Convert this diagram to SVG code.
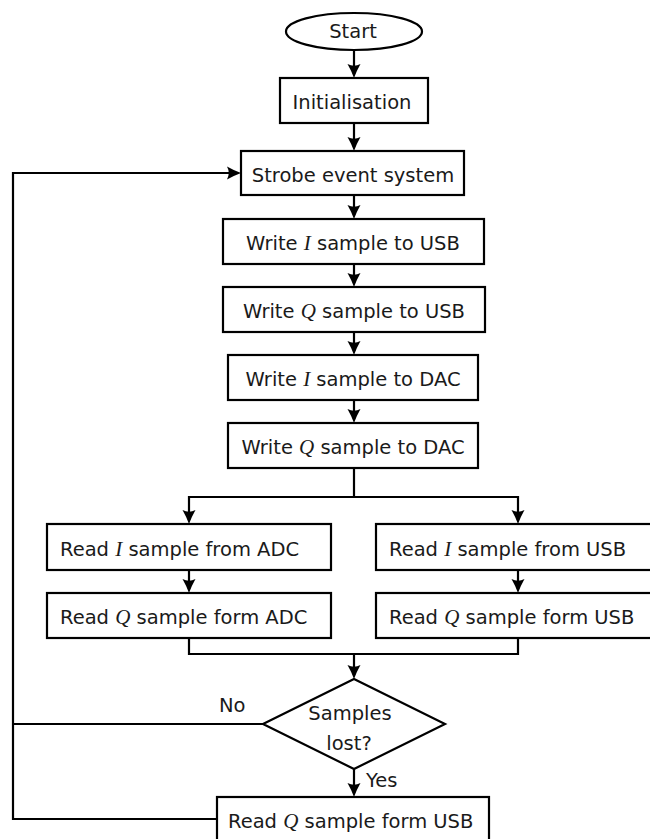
<svg xmlns="http://www.w3.org/2000/svg" width="650" height="839" viewBox="0 0 650 839">
  <defs>
    <marker id="arrow" markerUnits="userSpaceOnUse" viewBox="0 0 14 14" refX="10" refY="7" markerWidth="14" markerHeight="14" orient="auto">
      <path d="M0,0.5 Q6,4 14,7 Q6,10 0,13.5 Q3.5,7 0,0.5 Z" fill="#000"/>
    </marker>
    <style>
      .box { fill: #fff; stroke: #000; stroke-width: 2.2; }
      .wire { fill: none; stroke: #000; stroke-width: 2.2; }
      .lbl { font-family: "DejaVu Sans", "Liberation Sans", sans-serif; font-size: 19.5px; fill: #1a1a1a; }
      .mid { text-anchor: middle; }
      .m { font-family: "Liberation Serif", "DejaVu Serif", serif; font-style: italic; font-size: 21px; }
    </style>
  </defs>

  <!-- connectors -->
  <g id="connectors">
    <path class="wire" d="M354,50 V74" marker-end="url(#arrow)"/>
    <path class="wire" d="M354,123 V147" marker-end="url(#arrow)"/>
    <path class="wire" d="M354,195 V215" marker-end="url(#arrow)"/>
    <path class="wire" d="M354,264 V283" marker-end="url(#arrow)"/>
    <path class="wire" d="M354,332 V351" marker-end="url(#arrow)"/>
    <path class="wire" d="M354,400 V419" marker-end="url(#arrow)"/>
    <path class="wire" d="M354,468 V497 H189 V520" marker-end="url(#arrow)"/>
    <path class="wire" d="M354,497 H518 V520" marker-end="url(#arrow)"/>
    <path class="wire" d="M189,570 V589" marker-end="url(#arrow)"/>
    <path class="wire" d="M518,570 V589" marker-end="url(#arrow)"/>
    <path class="wire" d="M189,638 V654 H518 V638"/>
    <path class="wire" d="M354,654 V675" marker-end="url(#arrow)"/>
    <path class="wire" d="M354,769 V793" marker-end="url(#arrow)"/>
    <path class="wire" d="M263,724 H13"/>
    <path class="wire" d="M217,819 H13 V173 H237" marker-end="url(#arrow)"/>
    <text class="lbl" x="219" y="712">No</text>
    <text class="lbl" x="366" y="787">Yes</text>
  </g>

  <g id="start">
    <ellipse class="box" cx="354" cy="31.5" rx="68" ry="18.5"/>
    <text class="lbl mid" x="353" y="38">Start</text>
  </g>

  <g id="init">
    <rect class="box" x="280" y="78" width="148" height="45"/>
    <text class="lbl mid" x="352" y="109">Initialisation</text>
  </g>

  <g id="strobe">
    <rect class="box" x="241" y="151" width="223" height="44"/>
    <text class="lbl mid" x="353" y="182">Strobe event system</text>
  </g>

  <g id="write-i-usb">
    <rect class="box" x="223" y="219" width="261" height="45"/>
    <text class="lbl mid" x="353" y="250">Write <tspan class="m">I</tspan> sample to USB</text>
  </g>

  <g id="write-q-usb">
    <rect class="box" x="223" y="287" width="262" height="45"/>
    <text class="lbl mid" x="354" y="318">Write <tspan class="m">Q</tspan> sample to USB</text>
  </g>

  <g id="write-i-dac">
    <rect class="box" x="228" y="355" width="250" height="45"/>
    <text class="lbl mid" x="353" y="386">Write <tspan class="m">I</tspan> sample to DAC</text>
  </g>

  <g id="write-q-dac">
    <rect class="box" x="228" y="423" width="250" height="45"/>
    <text class="lbl mid" x="353" y="454">Write <tspan class="m">Q</tspan> sample to DAC</text>
  </g>

  <g id="read-i-adc">
    <rect class="box" x="47" y="524" width="284" height="46"/>
    <text class="lbl" x="60" y="556">Read <tspan class="m">I</tspan> sample from ADC</text>
  </g>

  <g id="read-q-adc">
    <rect class="box" x="47" y="593" width="284" height="45"/>
    <text class="lbl" x="60" y="624">Read <tspan class="m">Q</tspan> sample form ADC</text>
  </g>

  <g id="read-i-usb">
    <rect class="box" x="376" y="524" width="290" height="46"/>
    <text class="lbl" x="389" y="556">Read <tspan class="m">I</tspan> sample from USB</text>
  </g>

  <g id="read-q-usb">
    <rect class="box" x="376" y="593" width="290" height="45"/>
    <text class="lbl" x="389" y="624">Read <tspan class="m">Q</tspan> sample form USB</text>
  </g>

  <g id="decision">
    <polygon class="box" points="263,724 354,679 445,724 354,769"/>
    <text class="lbl mid" x="350" y="720">Samples</text>
    <text class="lbl mid" x="349" y="750">lost?</text>
  </g>

  <g id="read-q-usb-final">
    <rect class="box" x="217" y="797" width="272" height="46"/>
    <text class="lbl" x="228" y="828">Read <tspan class="m">Q</tspan> sample form USB</text>
  </g>
</svg>
